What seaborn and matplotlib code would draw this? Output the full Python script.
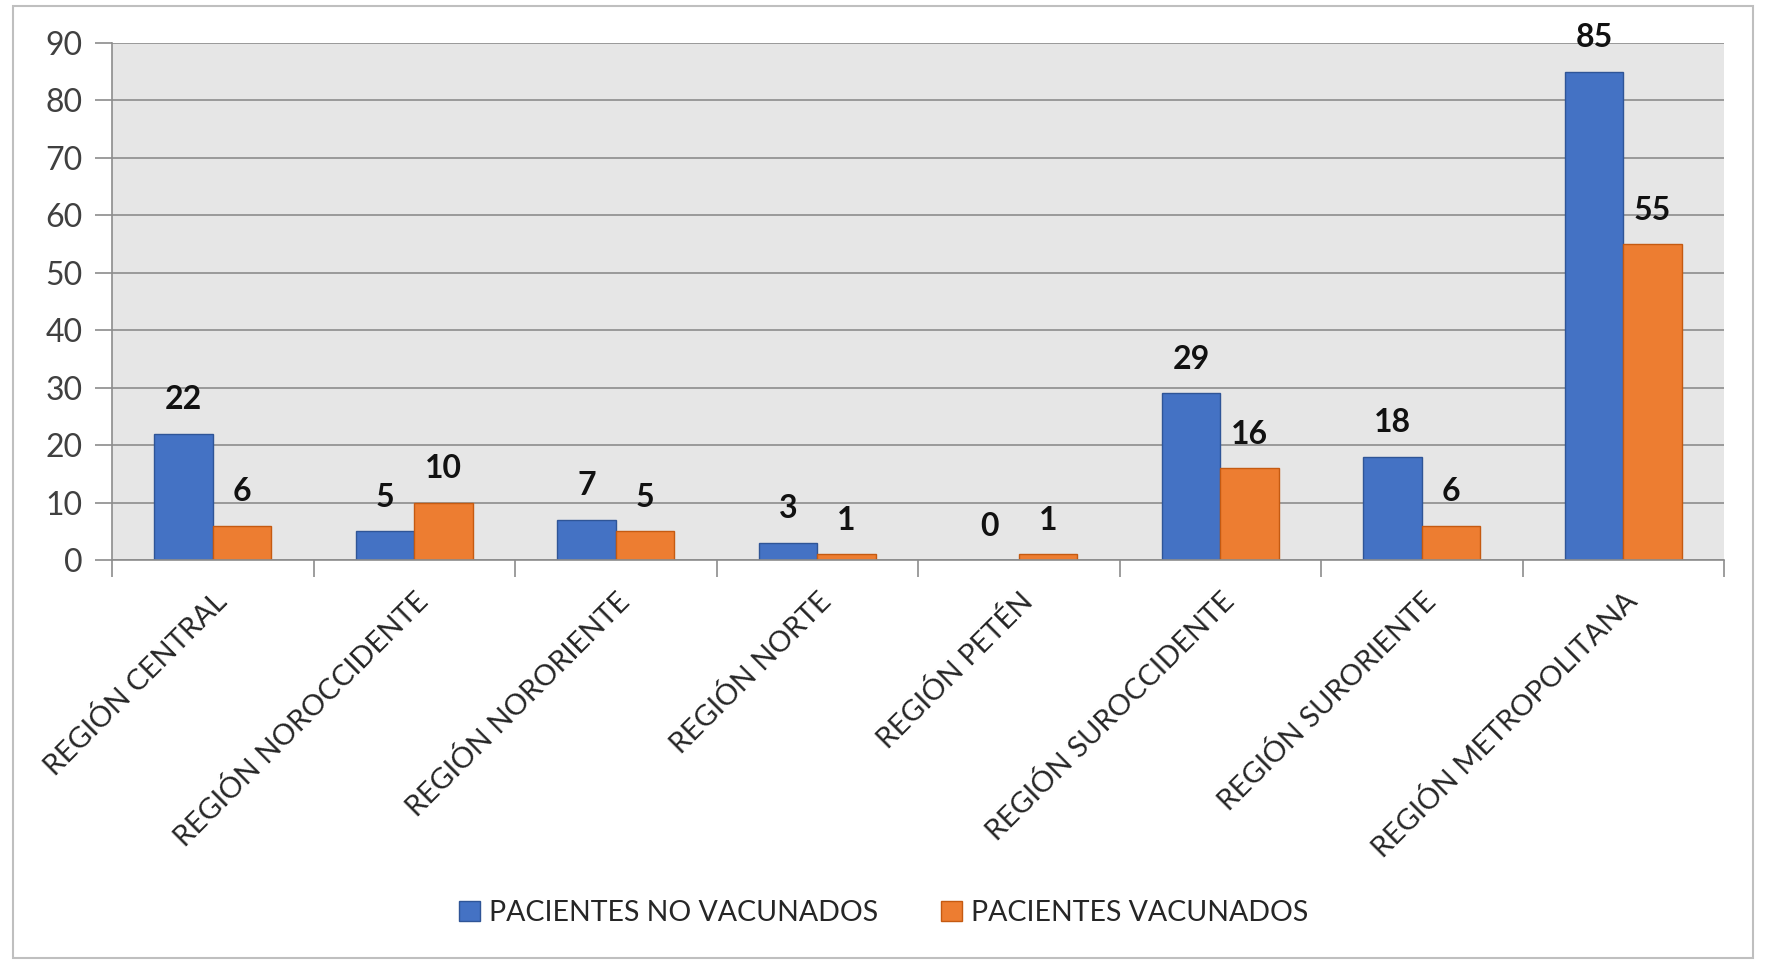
import matplotlib
matplotlib.use("Agg")
import matplotlib.pyplot as plt
import seaborn as sns
import pandas as pd
from matplotlib.patches import Rectangle, Patch

categories = ["REGIÓN CENTRAL", "REGIÓN NOROCCIDENTE", "REGIÓN NORORIENTE", "REGIÓN NORTE",
              "REGIÓN PETÉN", "REGIÓN SUROCCIDENTE", "REGIÓN SURORIENTE", "REGIÓN METROPOLITANA"]
no_vacunados = [22, 5, 7, 3, 0, 29, 18, 85]
vacunados = [6, 10, 5, 1, 1, 16, 6, 55]
series_names = ["PACIENTES NO VACUNADOS", "PACIENTES VACUNADOS"]
y_ticks = [0, 10, 20, 30, 40, 50, 60, 70, 80, 90]

colors = ["#4472C4", "#ED7D31"]
edges = ["#2F5597", "#C55A11"]

df = pd.DataFrame({
    "region": categories * 2,
    "valor": no_vacunados + vacunados,
    "serie": [series_names[0]] * len(categories) + [series_names[1]] * len(categories),
})

sns.set_theme(style="white")
plt.rcParams["font.family"] = ["Lato", "DejaVu Sans"]

fig = plt.figure(figsize=(17.67, 9.6), dpi=100)
ax = fig.add_axes([0.0634, 0.4167, 0.9123, 0.5385])

sns.barplot(data=df, x="region", y="valor", hue="serie", order=categories,
            hue_order=series_names, palette=colors, width=0.58, gap=0,
            ax=ax, legend=False, saturation=1)

for cont, ec in zip(ax.containers, edges):
    for p in cont:
        p.set_edgecolor(ec)
        p.set_linewidth(1.0)
    ax.bar_label(cont, padding=14, fontsize=23, fontweight="bold", color="#111111")

ax.set_facecolor("#E6E6E6")
ax.set_xlim(-0.5, len(categories) - 0.5)
ax.set_ylim(0, 90)
ax.set_yticks(y_ticks)
ax.yaxis.grid(True, color="#8C8C8C", linewidth=1.2)
ax.set_axisbelow(True)
ax.set_xlabel("")
ax.set_ylabel("")

for s in ["top", "right"]:
    ax.spines[s].set_visible(False)
for s in ["left", "bottom"]:
    ax.spines[s].set_visible(True)
    ax.spines[s].set_color("#8C8C8C")
    ax.spines[s].set_linewidth(1.2)

ax.tick_params(axis="y", which="major", left=True, length=12, width=1.2, color="#8C8C8C",
               labelsize=23, labelcolor="#404040", pad=9)
ax.set_xticks(range(len(categories)))
ax.set_xticklabels(categories, rotation=45, ha="right", rotation_mode="anchor",
                   fontsize=21, color="#262626")
ax.tick_params(axis="x", which="major", length=0, pad=20)
ax.set_xticks([i - 0.5 for i in range(len(categories) + 1)], minor=True)
ax.tick_params(axis="x", which="minor", bottom=True, length=12, width=1.2, color="#8C8C8C")

handles = [Patch(facecolor=c, edgecolor=e, label=n) for c, e, n in zip(colors, edges, series_names)]
fig.legend(handles=handles, loc="center", bbox_to_anchor=(0.5, 0.049), ncol=2, frameon=False,
           fontsize=20.5, handlelength=0.75, handleheight=0.75, handletextpad=0.3,
           columnspacing=2.2, labelcolor="#262626")

fig.patches.append(Rectangle((13 / 1767, 2 / 960), 1740 / 1767, 952 / 960, transform=fig.transFigure,
                             fill=False, edgecolor="#BFBFBF", linewidth=1.5))

fig.savefig("out.png", dpi=100, facecolor="white")
